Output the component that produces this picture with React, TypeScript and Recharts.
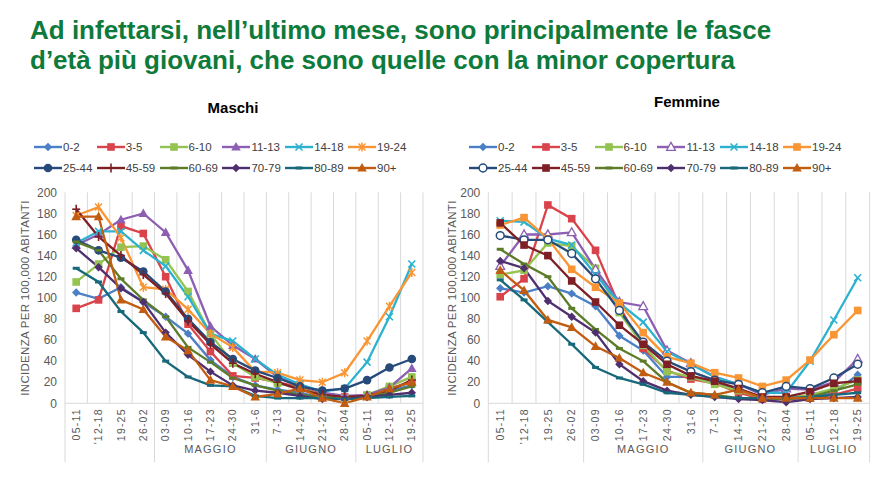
import React from 'react';
import { LineChart, Line, XAxis, YAxis, ReferenceLine, Legend } from 'recharts';

const WEEKS = ['05-11', "'12-18", '19-25', '26-02', '03-09', '10-16', '17-23', '24-30', '31-6', '7-13', '14-20', '21-27', '28-04', '05-11', '12-18', '19-25'];
const MONTHS = [
  { label: '', start: 0, end: 3 },
  { label: 'MAGGIO', start: 4, end: 8 },
  { label: 'GIUGNO', start: 9, end: 12 },
  { label: 'LUGLIO', start: 13, end: 15 },
];
const AGE_GROUPS = ['0-2', '3-5', '6-10', '11-13', '14-18', '19-24', '25-44', '45-59', '60-69', '70-79', '80-89', '90+'];
const Y_TICKS = [0, 20, 40, 60, 80, 100, 120, 140, 160, 180, 200];
const COLORS = ['#4b7fc6', '#d9434b', '#94c352', '#8c5fb3', '#2cb2cf', '#f99533', '#264a7a', '#7e1f25', '#5d7c2a', '#4f2f6e', '#17687a', '#c15c10'];
const M_MARKERS = ['diamond', 'square', 'square', 'triangle', 'x', 'star', 'circle', 'plus', 'dash', 'diamond', 'dash', 'triangle'];
const F_MARKERS = ['diamond', 'square', 'square', 'openTriangle', 'x', 'square', 'openCircle', 'square', 'dash', 'diamond', 'dash', 'triangle'];

// Maschi
const M_0_2 = [105, 99, 110, 96, 82, 66, 41, 25, 17, 13, 10, 5, 4, 7, 12, 17];
const M_3_5 = [90, 98, 168, 161, 120, 75, 49, 26, 24, 20, 15, 9, 6, 7, 14, 20];
const M_6_10 = [115, 132, 148, 149, 136, 106, 66, 38, 25, 19, 14, 8, 5, 8, 16, 25];
const M_11_13 = [150, 160, 174, 180, 162, 126, 73, 55, 42, 25, 18, 10, 7, 8, 15, 33];
const M_14_18 = [152, 163, 163, 145, 130, 101, 66, 59, 42, 27, 18, 11, 14, 39, 82, 132];
const M_19_24 = [178, 186, 157, 110, 108, 89, 66, 53, 30, 29, 22, 20, 29, 59, 92, 124];
const M_25_44 = [155, 145, 138, 125, 106, 80, 58, 42, 31, 24, 16, 12, 14, 22, 34, 42];
const M_45_59 = [184, 158, 140, 122, 104, 78, 56, 38, 28, 20, 13, 8, 6, 7, 12, 22];
const M_60_69 = [153, 145, 118, 98, 82, 53, 39, 24, 17, 12, 8, 6, 4, 6, 10, 16];
const M_70_79 = [147, 129, 109, 96, 67, 46, 30, 17, 12, 10, 7, 4, 4, 6, 8, 10];
const M_80_89 = [128, 115, 87, 67, 40, 25, 17, 16, 7, 5, 5, 5, 4, 5, 6, 7];
const M_90 = [177, 177, 98, 89, 63, 50, 22, 16, 6, 9, 14, 5, 0, 6, 14, 20];

// Femmine
const F_0_2 = [109, 105, 111, 104, 92, 64, 50, 25, 25, 20, 12, 5, 4, 5, 10, 27];
const F_3_5 = [101, 118, 188, 175, 145, 92, 52, 31, 23, 19, 10, 4, 5, 5, 8, 14];
const F_6_10 = [122, 126, 152, 149, 128, 86, 55, 30, 25, 18, 12, 5, 5, 8, 14, 22];
const F_11_13 = [130, 160, 160, 162, 127, 96, 92, 50, 38, 25, 18, 8, 14, 13, 20, 42];
const F_14_18 = [173, 172, 156, 150, 122, 95, 77, 49, 37, 25, 18, 10, 10, 40, 79, 119];
const F_19_24 = [169, 176, 156, 127, 110, 95, 67, 44, 38, 29, 24, 16, 22, 41, 65, 88];
const F_25_44 = [159, 155, 155, 142, 118, 88, 58, 40, 30, 22, 18, 10, 16, 14, 24, 37];
const F_45_59 = [171, 150, 140, 116, 96, 74, 56, 37, 26, 21, 14, 6, 6, 11, 19, 21];
const F_60_69 = [146, 132, 120, 90, 70, 52, 40, 20, 10, 8, 5, 4, 4, 6, 12, 18];
const F_70_79 = [135, 128, 97, 82, 67, 37, 21, 12, 8, 6, 4, 3, 1, 4, 5, 6];
const F_80_89 = [117, 98, 77, 56, 34, 24, 18, 10, 8, 6, 5, 5, 5, 6, 8, 10];
const F_90 = [126, 107, 79, 72, 54, 43, 29, 20, 10, 8, 13, 5, 5, 5, 5, 5];

const MASCHI = [M_0_2, M_3_5, M_6_10, M_11_13, M_14_18, M_19_24, M_25_44, M_45_59, M_60_69, M_70_79, M_80_89, M_90];
const FEMMINE = [F_0_2, F_3_5, F_6_10, F_11_13, F_14_18, F_19_24, F_25_44, F_45_59, F_60_69, F_70_79, F_80_89, F_90];

const FONT = '"Liberation Sans", Arial, sans-serif';
const AXIS_TEXT = '#595959';
const GRID = '#d9d9d9';

function buildRows(series: number[][]) {
  return WEEKS.map((w, i) => {
    const r: any = { k: i };
    series.forEach((vals, s) => {
      r['s' + s] = vals[i];
    });
    return r;
  });
}

function Marker({ shape, x, y, color }: { shape: string; x: number; y: number; color: string }) {
  switch (shape) {
    case 'diamond':
      return <polygon points={`${x},${y - 4.2} ${x + 4.2},${y} ${x},${y + 4.2} ${x - 4.2},${y}`} fill={color} />;
    case 'square':
      return <rect x={x - 3.8} y={y - 3.8} width={7.6} height={7.6} fill={color} />;
    case 'triangle':
      return <polygon points={`${x},${y - 5} ${x + 4.8},${y + 3.6} ${x - 4.8},${y + 3.6}`} fill={color} />;
    case 'openTriangle':
      return <polygon points={`${x},${y - 4.6} ${x + 4.4},${y + 3.3} ${x - 4.4},${y + 3.3}`} fill="#fff" stroke={color} strokeWidth={1.3} />;
    case 'circle':
      return <circle cx={x} cy={y} r={4.3} fill={color} />;
    case 'openCircle':
      return <circle cx={x} cy={y} r={3.9} fill="#fff" stroke={color} strokeWidth={1.5} />;
    case 'x':
      return (
        <g stroke={color} strokeWidth={1.6}>
          <line x1={x - 3.5} y1={y - 3.5} x2={x + 3.5} y2={y + 3.5} />
          <line x1={x - 3.5} y1={y + 3.5} x2={x + 3.5} y2={y - 3.5} />
        </g>
      );
    case 'star':
      return (
        <g stroke={color} strokeWidth={1.5}>
          <line x1={x - 3.5} y1={y - 3.5} x2={x + 3.5} y2={y + 3.5} />
          <line x1={x - 3.5} y1={y + 3.5} x2={x + 3.5} y2={y - 3.5} />
          <line x1={x} y1={y - 4.5} x2={x} y2={y + 4.5} />
        </g>
      );
    case 'plus':
      return (
        <g stroke={color} strokeWidth={1.6}>
          <line x1={x - 4} y1={y} x2={x + 4} y2={y} />
          <line x1={x} y1={y - 4.5} x2={x} y2={y + 4.5} />
        </g>
      );
    case 'dash':
      return <line x1={x - 3.5} y1={y} x2={x + 3.5} y2={y} stroke={color} strokeWidth={3} />;
    default:
      return null;
  }
}

function XTick(props: any) {
  const { x, y, payload } = props;
  const i: number = payload?.value ?? props.index;
  const half: number = typeof payload?.offset === 'number' && payload.offset > 0 ? payload.offset : 11;
  const parts: React.ReactNode[] = [];
  const ty = y + 5;
  parts.push(
    <text
      key="t"
      x={x}
      y={ty}
      transform={`rotate(-90 ${x} ${ty})`}
      textAnchor="end"
      dy="0.35em"
      fontSize={10.5}
      letterSpacing={1.2}
      fill={AXIS_TEXT}
      fontFamily={FONT}
    >
      {WEEKS[i]}
    </text>
  );
  MONTHS.forEach((g, gi) => {
    if (i === g.start) {
      parts.push(<line key={'s' + gi} x1={x - half} x2={x - half} y1={y} y2={y + 59} stroke={GRID} strokeWidth={1} />);
    }
    if (gi === MONTHS.length - 1 && i === g.end) {
      parts.push(<line key="se" x1={x + half} x2={x + half} y1={y} y2={y + 59} stroke={GRID} strokeWidth={1} />);
    }
    const c = (g.start + g.end) / 2;
    if (g.label && i === Math.floor(c)) {
      parts.push(
        <text
          key={'m' + gi}
          x={x + (c - Math.floor(c)) * 2 * half}
          y={y + 46}
          dy="0.35em"
          textAnchor="middle"
          fontSize={11}
          letterSpacing={1.2}
          fill={AXIS_TEXT}
          fontFamily={FONT}
        >
          {g.label}
        </text>
      );
    }
  });
  return <g>{parts}</g>;
}

function LegendBox({ markers }: { markers: string[] }) {
  return (
    <div style={{ display: 'grid', gridTemplateColumns: 'repeat(6, 62.8px)', rowGap: 0, fontFamily: FONT }}>
      {AGE_GROUPS.map((g, s) => (
        <div key={g} style={{ display: 'flex', alignItems: 'center', height: 21, whiteSpace: 'nowrap' }}>
          <svg width={28} height={12} style={{ display: 'block', overflow: 'visible' }}>
            <line x1={0} x2={28} y1={6} y2={6} stroke={COLORS[s]} strokeWidth={2.4} />
            <Marker shape={markers[s]} x={14} y={6} color={COLORS[s]} />
          </svg>
          <span style={{ fontSize: 11.5, color: '#404040', marginLeft: 1 }}>{g}</span>
        </div>
      ))}
    </div>
  );
}

type PanelProps = {
  title: string;
  series: number[][];
  markers: string[];
  left: number;
  width: number;
  marginLeft: number;
  yWidth: number;
  marginRight: number;
  legendLeft: number;
  titleX: number;
  titleY: number;
  yLabelX: number;
};

function Panel(p: PanelProps) {
  const rows = buildRows(p.series);
  const top = 90;
  const height = 388;
  const plotTop = 102.3;
  const plotH = 211;
  return (
    <div style={{ position: 'absolute', left: p.left, top, width: p.width, height }}>
      <LineChart
        width={p.width}
        height={height}
        data={rows}
        margin={{ top: plotTop, right: p.marginRight, bottom: 0, left: p.marginLeft }}
      >
        <XAxis
          dataKey="k"
          type="category"
          scale="band"
          interval={0}
          tickLine={false}
          tickSize={0}
          tickMargin={0}
          axisLine={{ stroke: GRID, strokeWidth: 1 }}
          height={height - plotTop - plotH}
          tick={<XTick />}
        />
        <YAxis
          domain={[0, 200]}
          ticks={Y_TICKS}
          interval={0}
          width={p.yWidth}
          tickLine={false}
          axisLine={false}
          tickSize={0}
          tickMargin={8}
          tick={{ fontSize: 12, fill: AXIS_TEXT, fontFamily: FONT }}
        />
        {WEEKS.map((w, i) => (
          <ReferenceLine key={'g' + i} x={i} position="start" stroke={GRID} strokeWidth={1} />
        ))}
        <ReferenceLine x={WEEKS.length - 1} position="end" stroke={GRID} strokeWidth={1} />
        <Legend
          layout="vertical"
          align="center"
          verticalAlign="middle"
          wrapperStyle={{ top: 46.5, left: p.legendLeft, width: 400 }}
          content={() => <LegendBox markers={p.markers} />}
        />
        {AGE_GROUPS.map((g, s) => (
          <Line
            key={g}
            name={g}
            dataKey={'s' + s}
            stroke={COLORS[s]}
            strokeWidth={2.3}
            isAnimationActive={false}
            dot={(d: any) => (
              <Marker key={`d${s}-${d.index}`} shape={p.markers[s]} x={d.cx} y={d.cy} color={COLORS[s]} />
            )}
            activeDot={false}
          />
        ))}
      </LineChart>
      <div
        style={{
          position: 'absolute',
          left: p.titleX - 100,
          top: p.titleY - 9,
          width: 200,
          height: 18,
          lineHeight: '18px',
          textAlign: 'center',
          fontFamily: FONT,
          fontWeight: 'bold',
          fontSize: 15,
          color: '#000',
        }}
      >
        {p.title}
      </div>
      <div
        style={{
          position: 'absolute',
          left: p.yLabelX - 150,
          top: plotTop + plotH / 2 - 8,
          width: 300,
          height: 16,
          lineHeight: '16px',
          textAlign: 'center',
          transform: 'rotate(-90deg)',
          fontFamily: FONT,
          fontSize: 11.5,
          letterSpacing: 0.3,
          color: AXIS_TEXT,
          whiteSpace: 'nowrap',
        }}
      >
        INCIDENZA PER 100,000 ABITANTI
      </div>
    </div>
  );
}

export default function App() {
  return (
    <div style={{ position: 'absolute', left: 0, top: 0, width: 877, height: 478, background: '#fff', overflow: 'hidden' }}>
      <div
        style={{
          position: 'absolute',
          left: 30,
          top: 16,
          fontFamily: FONT,
          fontWeight: 'bold',
          fontSize: 26,
          lineHeight: '29.6px',
          color: '#0e7a3b',
          whiteSpace: 'nowrap',
        }}
      >
        <div>Ad infettarsi, nell’ultimo mese, sono principalmente le fasce</div>
        <div>d’età più giovani, che sono quelle con la minor copertura</div>
      </div>
      <Panel
        title="Maschi"
        series={MASCHI}
        markers={M_MARKERS}
        left={0}
        width={440}
        marginLeft={16}
        yWidth={49}
        marginRight={17}
        legendLeft={34}
        titleX={233}
        titleY={18}
        yLabelX={25}
      />
      <Panel
        title="Femmine"
        series={FEMMINE}
        markers={F_MARKERS}
        left={440}
        width={437}
        marginLeft={4}
        yWidth={44.3}
        marginRight={7.4}
        legendLeft={29}
        titleX={247}
        titleY={12}
        yLabelX={12}
      />
    </div>
  );
}
